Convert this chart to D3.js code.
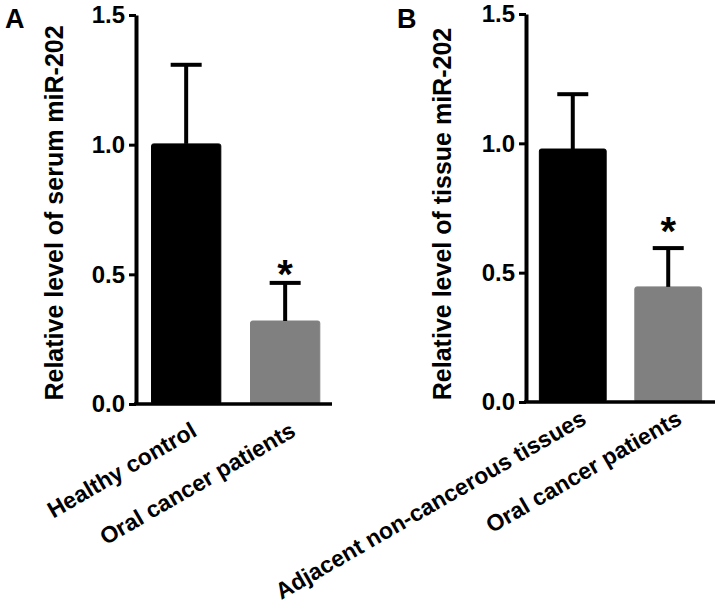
<!DOCTYPE html>
<html>
<head>
<meta charset="utf-8">
<script src="https://cdn.jsdelivr.net/npm/d3@7/dist/d3.min.js"></script>
<style>
  html, body { margin: 0; padding: 0; background: #fff; }
  svg { display: block; }
  text { font-family: "Liberation Sans", Arial, Helvetica, sans-serif; font-weight: bold; fill: #000; }
</style>
</head>
<body>
<svg id="chart" width="720" height="609"></svg>
<script>
// ---- data ----
const catsA = ["Healthy control", "Oral cancer patients"];
const meanA = [1.003, 0.32];
const sdA   = [0.305, 0.147];
const sigA  = ["", "*"];

const catsB = ["Adjacent non-cancerous tissues", "Oral cancer patients"];
const meanB = [0.978, 0.445];
const sdB   = [0.212, 0.15];
const sigB  = ["", "*"];

const yTicks = [0, 0.5, 1.0, 1.5];
const barColors = ["#000000", "#808080"];
const titleA = "Relative level of serum miR-202";
const titleB = "Relative level of tissue miR-202";

// ---- layout ----
const svg = d3.select("#chart");

const panels = [
  { letter: "A", letterX: 5, letterY: 28, cats: catsA, mean: meanA, sd: sdA, sig: sigA, title: titleA, sigDy: 5,
    x0: 136, x1: 332, yTop: 15, yBot: 404, titleX: 63, titleY: 213, labelDx: 12, labelY: 435, align: 0.56 },
  { letter: "B", letterX: 397, letterY: 28, cats: catsB, mean: meanB, sd: sdB, sig: sigB, title: titleB, sigDy: -3,
    x0: 526, x1: 715, yTop: 14, yBot: 402, titleX: 451, titleY: 214, labelDx: 15, labelY: 423, align: 0.5 }
];

panels.forEach(p => {
  const g = svg.append("g");
  const y = d3.scaleLinear().domain([0, 1.5]).range([p.yBot, p.yTop]);
  const x = d3.scaleBand().domain(p.cats).range([p.x0, p.x1])
    .paddingInner(0.3).paddingOuter(0.14).align(p.align);
  const bw = x.bandwidth();

  // bars
  g.selectAll("rect.bar").data(p.cats).enter().append("rect")
    .attr("x", d => x(d))
    .attr("y", (d, i) => y(p.mean[i]))
    .attr("width", bw)
    .attr("height", (d, i) => y(0) - y(p.mean[i]))
    .attr("rx", 2)
    .attr("fill", (d, i) => barColors[i])
    .attr("stroke", (d, i) => barColors[i])
    .attr("stroke-width", 1);

  // error bars (upper only)
  const capW = 31;
  g.selectAll("line.err").data(p.cats).enter().append("line")
    .attr("x1", d => x(d) + bw / 2).attr("x2", d => x(d) + bw / 2)
    .attr("y1", (d, i) => y(p.mean[i]))
    .attr("y2", (d, i) => y(p.mean[i] + p.sd[i]))
    .attr("stroke", "#000").attr("stroke-width", 4);
  g.selectAll("line.cap").data(p.cats).enter().append("line")
    .attr("x1", d => x(d) + bw / 2 - capW / 2).attr("x2", d => x(d) + bw / 2 + capW / 2)
    .attr("y1", (d, i) => y(p.mean[i] + p.sd[i]))
    .attr("y2", (d, i) => y(p.mean[i] + p.sd[i]))
    .attr("stroke", "#000").attr("stroke-width", 4);

  // significance
  g.selectAll("text.sig").data(p.cats).enter().append("text")
    .attr("x", d => x(d) + bw / 2)
    .attr("y", (d, i) => y(p.mean[i] + p.sd[i]) + p.sigDy)
    .attr("text-anchor", "middle")
    .style("font-size", "40px")
    .text((d, i) => p.sig[i]);

  // y axis
  const yAxis = d3.axisLeft(y).tickValues(yTicks).tickFormat(d3.format(".1f"))
    .tickSize(7).tickSizeOuter(0).tickPadding(4);
  const ya = g.append("g").attr("transform", `translate(${p.x0},0)`).call(yAxis);
  ya.attr("font-family", null).attr("font-size", null);
  ya.select(".domain").attr("stroke", "#000").attr("stroke-width", 4);
  ya.selectAll(".tick line").attr("stroke", "#000").attr("stroke-width", 3);
  ya.selectAll(".tick text").style("font-size", "24px").attr("fill", "#000");

  // x axis line
  g.append("line")
    .attr("x1", p.x0 - 2).attr("x2", p.x1)
    .attr("y1", y(0)).attr("y2", y(0))
    .attr("stroke", "#000").attr("stroke-width", 3.5);

  // x labels
  g.selectAll("text.xl").data(p.cats).enter().append("text")
    .attr("text-anchor", "end")
    .attr("transform", d => `translate(${x(d) + bw / 2 + p.labelDx},${p.labelY}) rotate(-30)`)
    .style("font-size", "23px")
    .text(d => d);

  // y title
  g.append("text")
    .attr("text-anchor", "middle")
    .attr("transform", `translate(${p.titleX},${p.titleY}) rotate(-90)`)
    .style("font-size", "25px")
    .text(p.title);

  // panel letter
  g.append("text")
    .attr("x", p.letterX).attr("y", p.letterY)
    .style("font-size", "27px")
    .text(p.letter);
});
</script>
</body>
</html>
